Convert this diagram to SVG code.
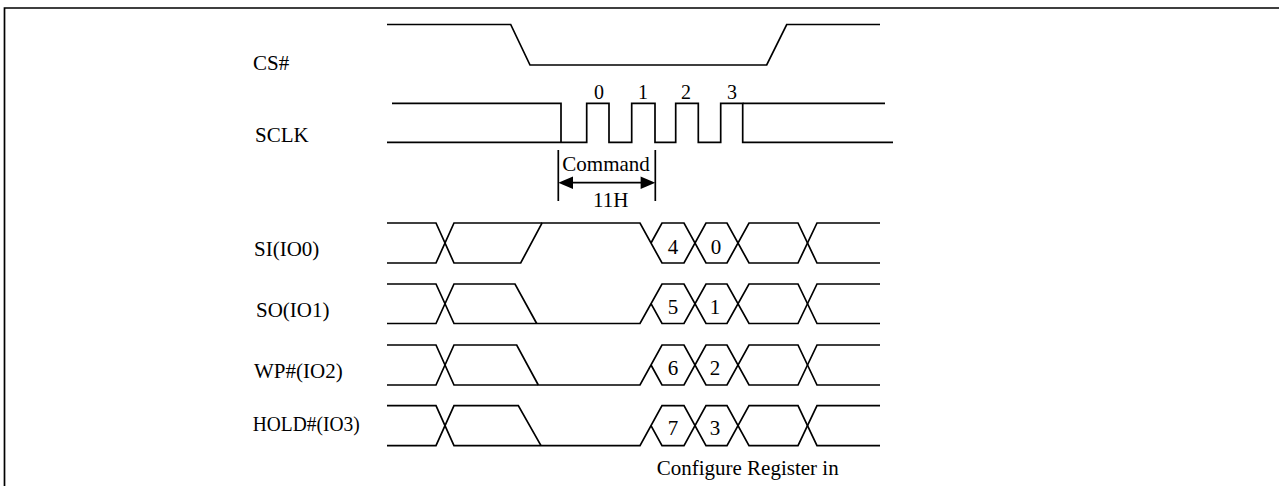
<svg xmlns="http://www.w3.org/2000/svg" width="1279" height="486" viewBox="0 0 1279 486">
<style>
.w{fill:none;stroke:#000;stroke-width:1.7;stroke-linejoin:miter}
.b{fill:none;stroke:#000;stroke-width:1.7}
text{font-family:"Liberation Serif","Times New Roman",serif;font-size:21px;fill:#000}
.n{font-size:20px;text-anchor:middle}
.h{text-anchor:middle}
</style>
<rect width="1279" height="486" fill="#fff"/>
<g id="border">
<path class="b" d="M4.5,486 V8 H1279"/>
</g>
<g id="cs">
<text x="253" y="69.5">CS#</text>
<path class="w" d="M387,24.5 H510.7 L530,65 H766.7 L786.7,24.5 H880"/>
</g>
<g id="sclk">
<text x="255" y="141.7">SCLK</text>
<path class="w" d="M392,103.3 H561 V142.3"/>
<path class="w" d="M387,142.3 H586.7 V103.3 H609 V142.3 H631.7 V103.3 H655 V142.3 H675.7 V103.3 H698.3 V142.3 H720.7 V103.3 H742.7 V142.3 H893"/>
<path class="w" d="M742.7,103.3 H885"/>
<text class="n" x="599" y="99">0</text>
<text class="n" x="643" y="99">1</text>
<text class="n" x="686" y="99">2</text>
<text class="n" x="732" y="99">3</text>
</g>
<g id="command">
<path class="b" d="M558.3,150 V201 M655.3,150 V201 M570,182.7 H644"/>
<polygon points="558.3,182.7 573,176.5 573,189" fill="#000"/>
<polygon points="655.3,182.7 640.6,176.5 640.6,189" fill="#000"/>
<text x="562.3" y="170.7">Command</text>
<text x="593" y="206.5">11H</text>
</g>
<g id="si">
<text x="254" y="256">SI(IO0)</text>
<path class="w" d="M387,223 H436 L454,263 H520.7 L542,223 H640 L662,263 H684 L706,223 H727 L749,263 H798 L817,223 H880"/>
<path class="w" d="M387,263 H436 L454,223 H542"/>
<path class="w" d="M651,243 L662,223 H684 L706,263 H727 L749,223 H798 L817,263 H880"/>
<text class="h" x="673" y="254">4</text>
<text class="h" x="716" y="254">0</text>
</g>
<g id="so">
<text x="256" y="316.5">SO(IO1)</text>
<path class="w" d="M387,284 H436 L454,323.5 H640 L662,284 H684 L706,323.5 H727 L749,284 H798 L817,323.5 H880"/>
<path class="w" d="M387,323.5 H436 L454,284 H515 L536.7,323.5"/>
<path class="w" d="M651,303.7 L662,323.5 H684 L706,284 H727 L749,323.5 H798 L817,284 H880"/>
<text class="h" x="673" y="313.5">5</text>
<text class="h" x="715" y="313.5">1</text>
</g>
<g id="wp">
<text x="254" y="377.5">WP#(IO2)</text>
<path class="w" d="M387,345 H436 L454,385 H640 L662,345 H684 L706,385 H727 L749,345 H798 L817,385 H880"/>
<path class="w" d="M387,385 H436 L454,345 H516.7 L538.3,385"/>
<path class="w" d="M651,365 L662,385 H684 L706,345 H727 L749,385 H798 L817,345 H880"/>
<text class="h" x="673" y="374.5">6</text>
<text class="h" x="715" y="374.5">2</text>
</g>
<g id="hold">
<text x="252.7" y="430.7" textLength="107" lengthAdjust="spacingAndGlyphs">HOLD#(IO3)</text>
<path class="w" d="M387,405.7 H436 L454,445.7 H640 L662,405.7 H684 L706,445.7 H727 L749,405.7 H798 L817,445.7 H880"/>
<path class="w" d="M387,445.7 H436 L454,405.7 H518.3 L541,445.7"/>
<path class="w" d="M651,425.7 L662,445.7 H684 L706,405.7 H727 L749,445.7 H798 L817,405.7 H880"/>
<text class="h" x="673" y="435">7</text>
<text class="h" x="715" y="435">3</text>
</g>
<g id="note">
<text x="656.7" y="475">Configure Register in</text>
</g>
</svg>
